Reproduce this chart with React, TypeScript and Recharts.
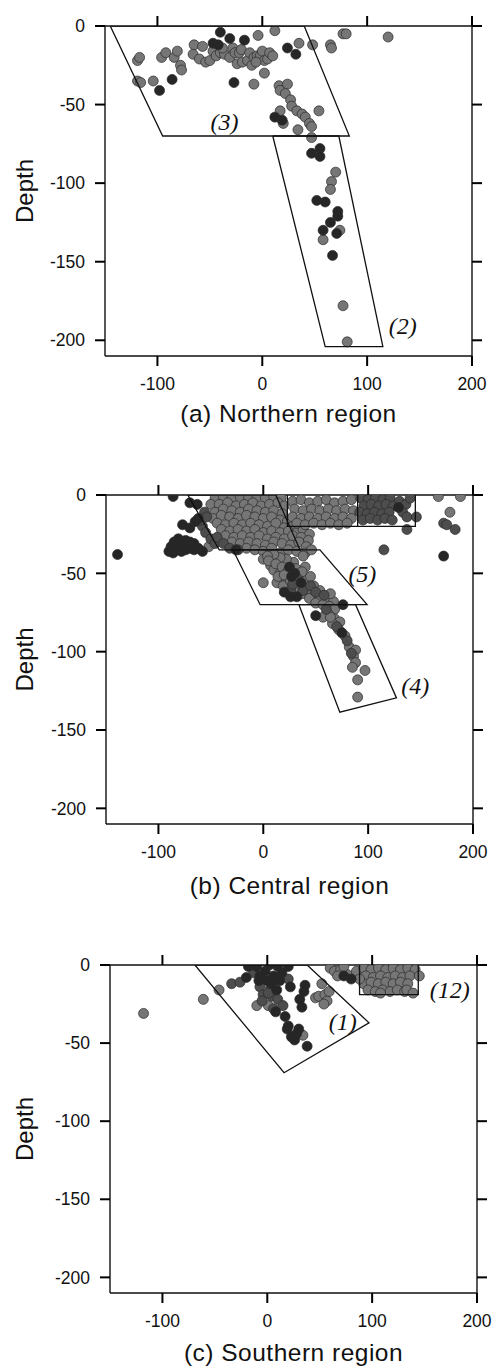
import { Label, ReferenceDot, Scatter, ScatterChart, XAxis, YAxis } from "recharts";

const FONT = "'Liberation Sans', Arial, Helvetica, sans-serif";
const SERIF = "'Liberation Serif', 'Times New Roman', serif";
const INK = "#111";

const X_TICKS = [-100, 0, 100, 200];
const DEPTH_TICKS = [0, -50, -100, -150, -200];

type Pair = [number, number];

// (a) Northern region
const northGray: Pair[] = [
  [-119, -22], [-117, -20], [-119, -35], [-116, -36], [-104, -35], [-96, -20], [-92, -17], [-84, -20],
  [-81, -16], [-78, -25], [-77, -28], [-65, -12], [-57, -13], [-66, -18], [-60, -21], [-54, -23],
  [-50, -22], [-47, -16], [-44, -19], [-40, -17], [-36, -18], [-38, -14], [-31, -20], [-28, -14],
  [-26, -17], [-22, -17], [-24, -24], [-20, -15], [-19, -23], [-14, -22], [-12, -17], [-10, -25],
  [-8, -20], [-5, -19], [-2, -19], [0, -16], [2, -22], [5, -21], [7, -17], [10, -19], [-6, -23],
  [-4, -6], [12, -3], [77, -5], [80, -5], [120, -7], [35, -11], [48, -12], [65, -12], [66, -14],
  [2, -30], [-8, -37], [16, -38], [24, -37], [17, -41], [22, -43], [27, -47], [28, -51], [33, -54],
  [38, -56], [41, -58], [45, -62], [47, -64], [34, -66], [54, -54], [17, -54], [20, -62],
  [47, -71], [70, -93], [66, -99], [65, -104], [74, -130], [58, -136], [77, -178], [81, -201],
];
const northDark: Pair[] = [
  [-40, -4], [-31, -8], [-17, -9], [-47, -11], [-42, -12], [24, -14], [32, -18], [-98, -41], [-86, -34],
  [-27, -36], [12, -58], [19, -60], [47, -81], [55, -78], [55, -83], [52, -111], [60, -112], [72, -118],
  [72, -121], [65, -125], [58, -130], [71, -132], [67, -146],
];
const northBox3: Pair[] = [[-145, 0], [40, 0], [83, -70], [-95, -70], [-145, 0]];
const northBox2: Pair[] = [[10, -70], [73, -70], [115, -204], [60, -204], [10, -70]];

// (b) Central region
const centralGray: Pair[] = [
  [-46, -2], [-38, -1], [-30, -2], [-22, -1], [-14, -2], [-6, -1], [2, -2], [10, -1], [17, -2],
  [-50, -6], [-42, -6], [-34, -5], [-26, -7], [-18, -6], [-10, -5], [-2, -7], [6, -6], [14, -5], [20, -7],
  [-46, -11], [-38, -9], [-30, -10], [-22, -11], [-14, -9], [-6, -10], [2, -11], [10, -10], [18, -12],
  [-48, -15], [-40, -13], [-32, -14], [-24, -15], [-16, -13], [-8, -14], [0, -15], [8, -14], [16, -16], [23, -17],
  [-44, -18], [-36, -19], [-28, -18], [-20, -19], [-12, -18], [-4, -19], [4, -20], [12, -18], [20, -21], [28, -20],
  [-40, -22], [-32, -23], [-24, -22], [-16, -23], [-8, -22], [0, -24], [8, -23], [16, -24], [24, -23],
  [32, -24], [38, -22], [44, -25],
  [-36, -26], [-28, -27], [-20, -26], [-12, -27], [-4, -26], [4, -28], [12, -27], [20, -28], [28, -26],
  [36, -27], [43, -29],
  [-30, -30], [-22, -31], [-14, -30], [-6, -31], [2, -32], [10, -30], [18, -31], [26, -32], [34, -30], [41, -33],
  [-16, -34], [-8, -35], [0, -36], [8, -34], [16, -37], [24, -35], [32, -36], [40, -37], [46, -35],
  [28, -4], [36, -3], [44, -5], [52, -4], [60, -3], [68, -5], [76, -4], [84, -3],
  [30, -9], [38, -10], [46, -9], [54, -10], [62, -9], [70, -10], [78, -9], [86, -10],
  [28, -14], [36, -15], [44, -14], [52, -15], [60, -14], [68, -15], [76, -14], [84, -15],
  [32, -18], [40, -19], [48, -18], [56, -19], [64, -18], [72, -19], [80, -18],
  [-52, -33], [0, -56], [0, -41], [7, -45], [10, -48], [16, -50], [22, -54], [29, -58], [35, -60], [42, -62],
  [48, -65], [13, -56], [19, -58], [35, -50], [42, -54], [48, -58], [54, -61], [40, -46], [45, -52],
  [38, -39], [29, -43], [22, -41], [16, -40], [10, -38], [4, -39], [54, -67], [60, -67], [67, -68], [64, -63],
  [5, -42], [12, -44], [18, -46], [24, -48], [31, -47], [37, -49], [14, -52], [20, -51], [26, -55], [33, -57],
  [39, -59], [30, -62], [37, -63], [44, -66], [50, -69], [57, -70], [63, -71], [68, -73], [62, -76], [68, -79],
  [73, -81], [66, -82],
  [57, -78], [64, -78], [72, -86], [78, -90], [82, -97], [88, -99], [86, -103], [88, -107], [85, -110],
  [97, -112], [90, -118], [90, -129], [178, -11], [167, -1], [188, -1],
];
const centralMid: Pair[] = [
  [-58, -20], [-55, -24], [-50, -28], [-46, -31], [-60, -16], [-56, -11], [-54, -14], [-44, -27],
  [-38, -31], [-32, -34], [-24, -35], [26, -61], [60, -73], [70, -84], [80, -93], [84, -101],
  [32, -53], [38, -61], [45, -58], [50, -62], [58, -64], [28, -57],
  [93, -2], [100, -3], [107, -2], [114, -3], [121, -2], [96, -7], [103, -6], [110, -7], [117, -6], [124, -7],
  [92, -11], [99, -12], [106, -11], [113, -12], [120, -11], [95, -16], [102, -15], [109, -16], [116, -15],
  [123, -16], [130, -4], [136, -6], [133, -11], [140, -2],
  [137, -14], [146, -14], [137, -22], [115, -35], [172, -18], [175, -19], [183, -22],
];
const centralDark: Pair[] = [
  [-139, -38], [-86, -1], [-88, -33], [-85, -30], [-81, -28], [-78, -31], [-74, -29], [-70, -30], [-66, -31],
  [-90, -36], [-86, -37], [-82, -35], [-78, -36], [-74, -35], [-70, -34], [-66, -35], [-62, -34], [-58, -36],
  [-77, -19], [-70, -21], [-65, -17], [-62, -15], [-70, -5], [-63, -6], [-26, -35],
  [76, -70], [26, -65], [32, -65], [20, -62], [27, -52], [25, -46], [30, -50], [36, -56], [50, -77], [75, -88],
  [129, -8], [172, -39],
];
const centralTopBox: Pair[] = [[-72, 0], [12, 0], [35, -35], [-42, -35], [-72, 0]];
const centralBox5: Pair[] = [[-29, -35], [54, -35], [99, -70], [-3, -70], [-29, -35]];
const centralBox4: Pair[] = [[34, -70], [88, -70], [127, -129.5], [73, -138.6], [34, -70]];
const centralRect: Pair[] = [[23, 0], [23, -20], [145, -20], [145, 0]];
const centralSplit: Pair[] = [[90, 0], [90, -20]];

// (c) Southern region
const southGray: Pair[] = [
  [-118, -31], [-61, -22], [-46, -16], [-10, -26], [1, -26], [34, -45], [46, -21], [49, -20], [52, -12],
  [55, -19], [57, -23], [59, -17], [54, -25],
  [60, -2], [64, -4], [70, -3], [76, -6], [85, -4], [67, -7], [73, -1],
  [92, -2], [99, -3], [106, -2], [113, -3], [120, -2], [127, -3], [134, -2], [141, -3],
  [94, -7], [101, -8], [108, -7], [115, -8], [122, -7], [129, -8], [136, -7],
  [92, -12], [99, -11], [106, -12], [113, -11], [120, -12], [127, -11], [134, -12],
  [96, -16], [103, -17], [110, -16], [117, -17], [124, -16], [131, -17],
  [108, -18], [133, -16], [139, -18], [145, -7], [88, -9],
];
const southMid: Pair[] = [
  [-34, -12], [-26, -11], [-7, -14], [3, -15], [-4, -19], [4, -20], [-5, -23], [1, -18], [10, -22],
  [15, -26], [6, -28], [20, -9], [-13, -5],
];
const southDark: Pair[] = [
  [-20, -8], [-18, -1], [-10, -1], [2, 0], [10, -1], [20, -1], [-7, -7], [0, -10], [6, -7], [9, -16],
  [12, -10], [22, -14], [8, -30], [17, -33], [20, -39], [19, -41], [31, -22], [35, -17], [36, -13],
  [33, -27], [30, -41], [28, -44], [23, -46], [26, -48], [38, -52], [-2, -4], [14, -5], [-8, -10],
  [4, -12], [80, -9], [73, -7],
];
const southBox1: Pair[] = [[-69, 0], [38, 0], [97, -37], [16, -69], [-69, 0]];
const southBox12: Pair[] = [[88, 0], [88, -19], [144, -19], [144, 0]];

const northTags = [{ x: -36, y: -60.5, text: "(3)" }, { x: 134, y: -190.5, text: "(2)" }];
const centralTags = [{ x: 94.5, y: -50, text: "(5)" }, { x: 145, y: -121.5, text: "(4)" }];
const southTags = [{ x: 72, y: -36, text: "(1)" }, { x: 174, y: -15.5, text: "(12)" }];

const GRAY = "#767676";
const MID = "#4d4d4d";
const DARK = "#262626";

const toPts = (arr: Pair[]) => arr.map(([x, y]) => ({ x, y }));
const blank = () => "";

const dotShape = (fill: string) => (p: any) => (
  <circle cx={p.cx} cy={p.cy} r={5} fill={fill} stroke="#2a2a2a" strokeWidth={0.7} />
);
const noShape = () => <g />;

function DepthLabel(props: any) {
  const vb = props.viewBox || { x: 0, y: 0, width: 0, height: 0 };
  const cx = vb.x + 24;
  const cy = vb.y + vb.height / 2;
  return (
    <text
      x={cx}
      y={cy}
      transform={`rotate(-90 ${cx} ${cy})`}
      textAnchor="middle"
      dominantBaseline="central"
      fontSize={24}
      fontFamily={FONT}
      fill={INK}
    >
      Depth
    </text>
  );
}

type PanelProps = {
  top: number;
  height: number;
  margin: { top: number; right: number; bottom: number; left: number };
  leftW: number;
  rightW: number;
  title: string;
  titleOffset: number;
  gray: Pair[];
  mid: Pair[];
  dark: Pair[];
  outlines: Pair[][];
  tags: { x: number; y: number; text: string }[];
};

function Panel({ top, height, margin, leftW, rightW, title, titleOffset, gray, mid, dark, outlines, tags }: PanelProps) {
  const tickLine = { stroke: "#000", strokeWidth: 2 };
  return (
    <div style={{ position: "absolute", left: 0, top, width: 493, height }}>
      <ScatterChart width={493} height={height} margin={margin}>
        <XAxis
          xAxisId="b"
          type="number"
          dataKey="x"
          domain={[-150, 200]}
          ticks={X_TICKS}
          allowDataOverflow
          height={30}
          tickSize={10}
          tickMargin={12}
          stroke={INK}
          strokeWidth={1.4}
          tickLine={tickLine}
          tick={{ fill: INK, fontSize: 17.5, fontFamily: FONT }}
          label={{ value: title, position: "bottom", offset: titleOffset, fontSize: 24.5, fontFamily: FONT, fill: INK, letterSpacing: 0.5 }}
        />
        <XAxis
          xAxisId="t"
          orientation="top"
          type="number"
          dataKey="x"
          domain={[-150, 200]}
          ticks={X_TICKS}
          allowDataOverflow
          height={12}
          tickSize={10}
          tickFormatter={blank}
          stroke={INK}
          strokeWidth={1.4}
          tickLine={tickLine}
        />
        <YAxis
          yAxisId="l"
          type="number"
          dataKey="y"
          domain={[-210, 0]}
          ticks={DEPTH_TICKS}
          allowDataOverflow
          width={leftW}
          tickSize={10}
          tickMargin={10}
          stroke={INK}
          strokeWidth={1.4}
          tickLine={tickLine}
          tick={{ fill: INK, fontSize: 17.5, fontFamily: FONT }}
        >
          <Label content={DepthLabel} />
        </YAxis>
        <YAxis
          yAxisId="r"
          orientation="right"
          type="number"
          dataKey="y"
          domain={[-210, 0]}
          ticks={DEPTH_TICKS}
          allowDataOverflow
          width={rightW}
          tickSize={10}
          tickFormatter={blank}
          stroke={INK}
          strokeWidth={1.4}
          tickLine={tickLine}
        />
        <Scatter xAxisId="b" yAxisId="l" data={toPts(gray)} shape={dotShape(GRAY)} isAnimationActive={false} />
        <Scatter xAxisId="b" yAxisId="l" data={toPts(mid)} shape={dotShape(MID)} isAnimationActive={false} />
        <Scatter xAxisId="b" yAxisId="l" data={toPts(dark)} shape={dotShape(DARK)} isAnimationActive={false} />
        {outlines.map((poly, i) => (
          <Scatter
            key={i}
            xAxisId="b"
            yAxisId="l"
            data={toPts(poly)}
            shape={noShape}
            line={{ stroke: INK, strokeWidth: 1.3 }}
            lineType="joint"
            isAnimationActive={false}
          />
        ))}
        {tags.map((t) => (
          <ReferenceDot
            key={t.text}
            xAxisId="b"
            yAxisId="l"
            x={t.x}
            y={t.y}
            r={1}
            fill="none"
            stroke="none"
            ifOverflow="visible"
            label={{ value: t.text, position: "center", fontSize: 24, fontStyle: "italic", fontFamily: SERIF, fill: INK }}
          />
        ))}
      </ScatterChart>
    </div>
  );
}

export default function App() {
  return (
    <div style={{ position: "absolute", left: 0, top: 0, width: 493, height: 1367, background: "#fff" }}>
      <Panel
        top={0}
        height={440}
        margin={{ top: 14, right: 0, bottom: 54, left: 0 }}
        leftW={105}
        rightW={21}
        title="(a) Northern region"
        titleOffset={19}
        gray={northGray}
        mid={[]}
        dark={northDark}
        outlines={[northBox3, northBox2]}
        tags={northTags}
      />
      <Panel
        top={460}
        height={460}
        margin={{ top: 23, right: 0, bottom: 66, left: 0 }}
        leftW={106}
        rightW={20}
        title="(b) Central region"
        titleOffset={23}
        gray={centralGray}
        mid={centralMid}
        dark={centralDark}
        outlines={[centralTopBox, centralBox5, centralBox4, centralRect, centralSplit]}
        tags={centralTags}
      />
      <Panel
        top={930}
        height={437}
        margin={{ top: 23, right: 0, bottom: 44, left: 0 }}
        leftW={110}
        rightW={16}
        title="(c) Southern region"
        titleOffset={21}
        gray={southGray}
        mid={southMid}
        dark={southDark}
        outlines={[southBox1, southBox12]}
        tags={southTags}
      />
    </div>
  );
}
